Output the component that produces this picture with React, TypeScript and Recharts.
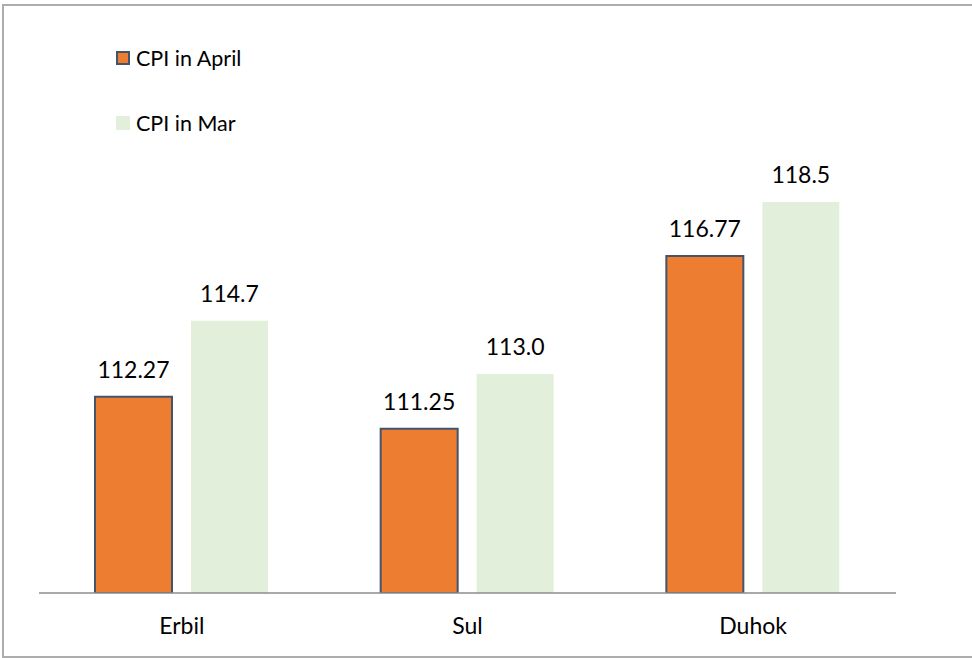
import { BarChart, Bar, XAxis, YAxis, LabelList, Legend } from 'recharts';

const REGIONS = ['Erbil', 'Sul', 'Duhok'];
const CPI_APRIL = [112.27, 111.25, 116.77];
const CPI_MAR = [114.7, 113.0, 118.5];
const Y_DOMAIN: [number, number] = [106, 120];

const APRIL_FILL = '#ED7D31';
const APRIL_STROKE = '#44546A';
const MAR_FILL = '#E2EFDA';
const FONT = 'Lato, "Noto Sans", sans-serif';

const data = REGIONS.map((region, i) => ({
  region,
  april: CPI_APRIL[i],
  mar: CPI_MAR[i],
}));

const LegendBox = ({ payload }: { payload?: any[] }) => (
  <div style={{ fontFamily: FONT }}>
    {(payload ?? []).map((item) => {
      const isApril = item.dataKey === 'april';
      return (
        <div
          key={item.value}
          style={{ display: 'flex', alignItems: 'center', height: 30, marginBottom: 35 }}
        >
          <span
            style={{
              width: 14,
              height: 14,
              boxSizing: 'border-box',
              background: isApril ? APRIL_FILL : MAR_FILL,
              border: isApril ? `2px solid ${APRIL_STROKE}` : 'none',
              marginRight: 6,
              display: 'inline-block',
            }}
          />
          <span style={{ fontSize: 21.5, color: '#000' }}>{item.value}</span>
        </div>
      );
    })}
  </div>
);

export default function App() {
  return (
    <div
      style={{
        position: 'absolute',
        left: 0,
        top: 0,
        width: 972,
        height: 658,
        background: '#fff',
        overflow: 'hidden',
      }}
    >
      <div
        style={{
          position: 'absolute',
          left: 2,
          top: 4,
          width: 1000,
          height: 654,
          borderTop: '2px solid #ADADAD',
          borderLeft: '2px solid #ADADAD',
          borderBottom: '2px solid #ADADAD',
          boxSizing: 'border-box',
        }}
      />
      <BarChart
        width={972}
        height={658}
        data={data}
        margin={{ top: 155, right: 76, bottom: 35, left: 39 }}
        barSize={77}
        barGap={19}
        style={{ fontFamily: FONT }}
      >
        <XAxis
          dataKey="region"
          height={30}
          tickSize={0}
          tickMargin={25}
          tickLine={false}
          axisLine={{ stroke: '#8C8C8C', strokeWidth: 1.5 }}
          tick={{ fontSize: 23, fill: '#000', fontFamily: FONT }}
        />
        <YAxis hide domain={Y_DOMAIN} allowDataOverflow />
        <Legend
          layout="vertical"
          align="center"
          verticalAlign="middle"
          wrapperStyle={{ top: 43, left: 116, width: 220 }}
          content={<LegendBox />}
        />
        <Bar
          dataKey="april"
          name="CPI in April"
          fill={APRIL_FILL}
          stroke={APRIL_STROKE}
          strokeWidth={2}
          isAnimationActive={false}
        >
          <LabelList
            dataKey="april"
            position="top"
            offset={19}
            formatter={(v: any) => Number(v).toFixed(2)}
            style={{ fontSize: 23, fill: '#000', fontFamily: FONT }}
          />
        </Bar>
        <Bar dataKey="mar" name="CPI in Mar" fill={MAR_FILL} isAnimationActive={false}>
          <LabelList
            dataKey="mar"
            position="top"
            offset={19}
            formatter={(v: any) => Number(v).toFixed(1)}
            style={{ fontSize: 23, fill: '#000', fontFamily: FONT }}
          />
        </Bar>
      </BarChart>
    </div>
  );
}
